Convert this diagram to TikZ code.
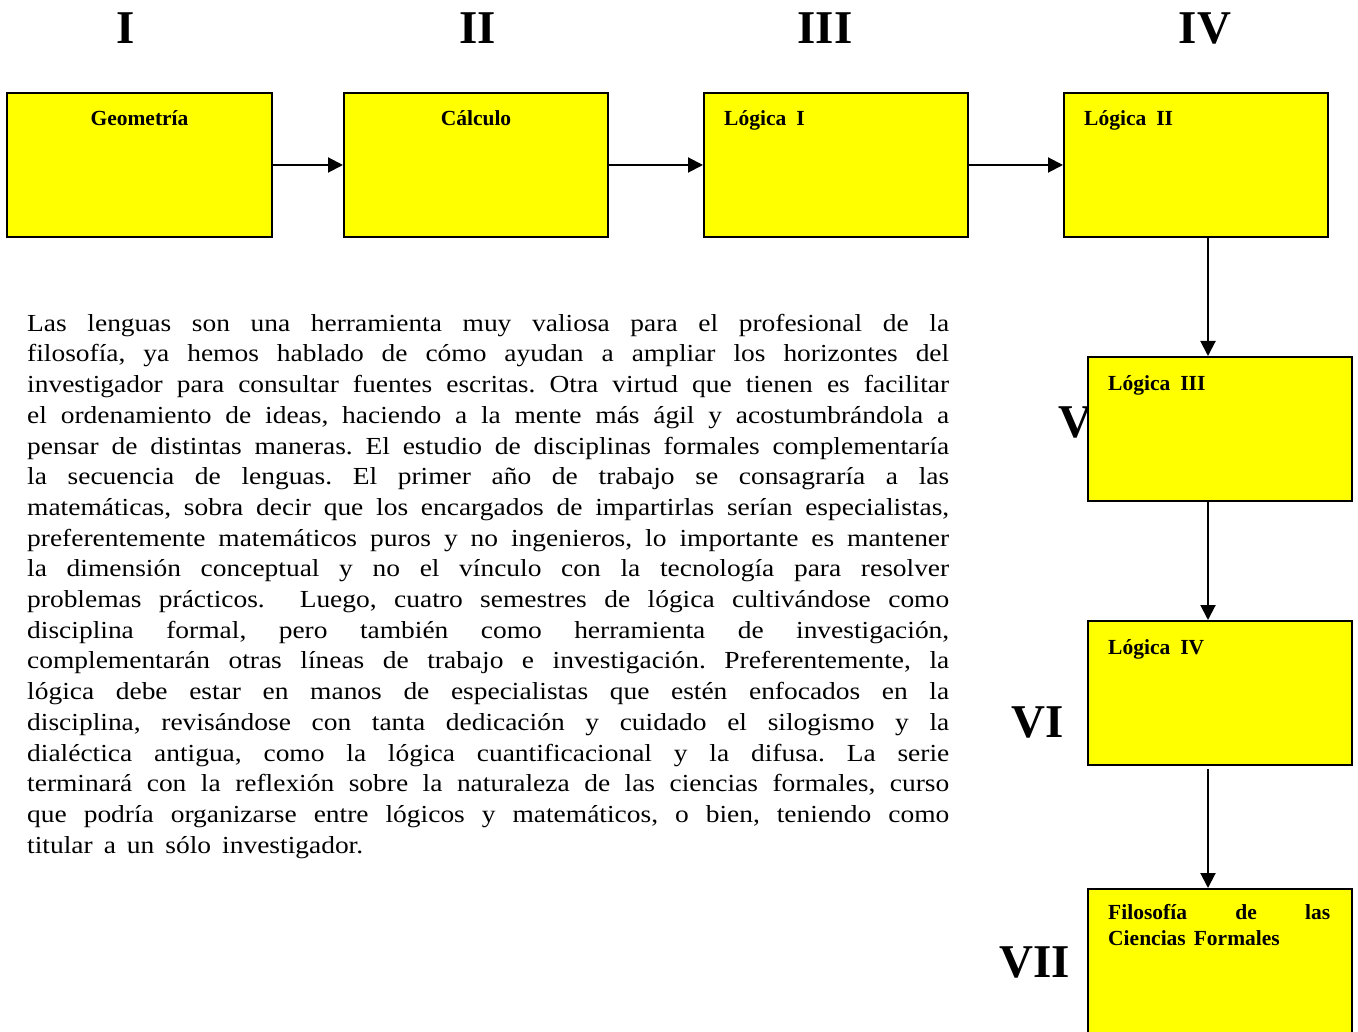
\documentclass[tikz,border=0pt]{standalone}
\usepackage{fontspec}
\setmainfont{Liberation Serif}
\newfontfamily\bodyfont[FakeStretch=1.12]{Liberation Serif}
\usetikzlibrary{arrows.meta}
\definecolor{boxyellow}{HTML}{FFFF00}
% paragraph font with wide, stretchable word spaces
\newcommand\paragraphfont{\bodyfont\fontsize{24.5pt}{30.7pt}\selectfont
  \frenchspacing\spaceskip=0.45em plus 1em minus 0.2em\relax}

\begin{document}
\begin{tikzpicture}[x=1pt,y=-1pt,
  stagebox/.style={draw=black, line width=2pt, fill=boxyellow, rectangle,
    inner sep=0pt, minimum width=264pt, minimum height=144pt},
  arr/.style={line width=2pt, -{Triangle[length=15pt,width=15pt]}},
  numeral/.style={font=\fontsize{47pt}{47pt}\selectfont\bfseries,
    inner sep=0pt, anchor=base},
  lbl/.style={font=\fontsize{21.5pt}{26pt}\selectfont\bfseries, inner sep=0pt},
  bodytext/.style={inner sep=0pt, align=left, font=\paragraphfont},
]
% page
\clip (0,0) rectangle (1358,1032);
\fill[white] (0,0) rectangle (1358,1032);

% semester numerals
\node[numeral] (n1) at (126,44) {I};
\node[numeral] (n2) at (478,44) {II};
\node[numeral] (n3) at (825,44) {III};
\node[numeral] (n4) at (1205,44) {IV};
\node[numeral] (n5) at (1075,437) {V};
\node[numeral] (n6) at (1038,737) {VI};
\node[numeral] (n7) at (1035,977) {VII};

% course boxes
\node[stagebox, minimum width=265pt] (b1) at (139.5,165) {};
\node[stagebox] (b2) at (476,165) {};
\node[stagebox] (b3) at (836,165) {};
\node[stagebox] (b4) at (1196,165) {};
\node[stagebox] (b5) at (1220,429) {};
\node[stagebox] (b6) at (1220,693) {};
\node[stagebox, minimum height=160pt] (b7) at (1220,969) {};

% box titles
\node[lbl, anchor=base] (t1) at ([yshift=-34pt]b1.north) {Geometría};
\node[lbl, anchor=base] (t2) at ([yshift=-34pt]b2.north) {Cálculo};
\node[lbl, anchor=base west] (t3) at ([xshift=21pt,yshift=-34pt]b3.north west) {Lógica\hspace{10pt}I};
\node[lbl, anchor=base west] (t4) at ([xshift=21pt,yshift=-34pt]b4.north west) {Lógica\hspace{10pt}II};
\node[lbl, anchor=base west] (t5) at ([xshift=21pt,yshift=-34pt]b5.north west) {Lógica\hspace{10pt}III};
\node[lbl, anchor=base west] (t6) at ([xshift=21pt,yshift=-34pt]b6.north west) {Lógica\hspace{10pt}IV};
\node[lbl, anchor=north west, align=left] (t7) at ([xshift=21pt,yshift=-10pt]b7.north west)
  {\rule{0pt}{21pt}\makebox[222pt][s]{Filosofía de las}\\ Ciencias\hspace{8pt}Formales};

% connectors
\coordinate (vx) at (1208,0);
\draw[arr] (b1.east) -- (b2.west);
\draw[arr] (b2.east) -- (b3.west);
\draw[arr] (b3.east) -- (b4.west);
\draw[arr] (b4.south -| vx) -- (b5.north -| vx);
\draw[arr] (b5.south -| vx) -- (b6.north -| vx);
\draw[arr, shorten <=3pt] (b6.south -| vx) -- (b7.north -| vx);

% explanatory paragraph
\node[bodytext, anchor=north west] (para) at (27,308) {%
\rule{0pt}{23pt}\makebox[922pt][s]{Las lenguas son una herramienta muy valiosa para el profesional de la}\\
\makebox[922pt][s]{filosofía, ya hemos hablado de cómo ayudan a ampliar los horizontes del}\\
\makebox[922pt][s]{investigador para consultar fuentes escritas. Otra virtud que tienen es facilitar}\\
\makebox[922pt][s]{el ordenamiento de ideas, haciendo a la mente más ágil y\ acostumbrándola a}\\
\makebox[922pt][s]{pensar de distintas maneras. El estudio de disciplinas formales complementaría}\\
\makebox[922pt][s]{la secuencia de lenguas. El primer año de\ trabajo se consagraría a las}\\
\makebox[922pt][s]{matemáticas, sobra decir que los encargados de impartirlas serían especialistas,}\\
\makebox[922pt][s]{preferentemente matemáticos puros y no ingenieros, lo importante es mantener}\\
\makebox[922pt][s]{la dimensión conceptual y no el vínculo con la tecnología para resolver}\\
\makebox[922pt][s]{problemas prácticos.\ \ Luego, cuatro semestres de lógica cultivándose como}\\
\makebox[922pt][s]{disciplina formal, pero también como herramienta de investigación,}\\
\makebox[922pt][s]{complementarán otras líneas de trabajo e investigación. Preferentemente, la}\\
\makebox[922pt][s]{lógica debe estar en manos de especialistas que estén enfocados en la}\\
\makebox[922pt][s]{disciplina, revisándose con tanta dedicación y cuidado el silogismo y la}\\
\makebox[922pt][s]{dialéctica antigua, como la lógica cuantificacional y la difusa. La serie}\\
\makebox[922pt][s]{terminará con la reflexión sobre la naturaleza de las ciencias formales, curso}\\
\makebox[922pt][s]{que podría organizarse entre lógicos y matemáticos, o bien, teniendo como}\\
titular a un sólo investigador.};
\end{tikzpicture}
\end{document}
